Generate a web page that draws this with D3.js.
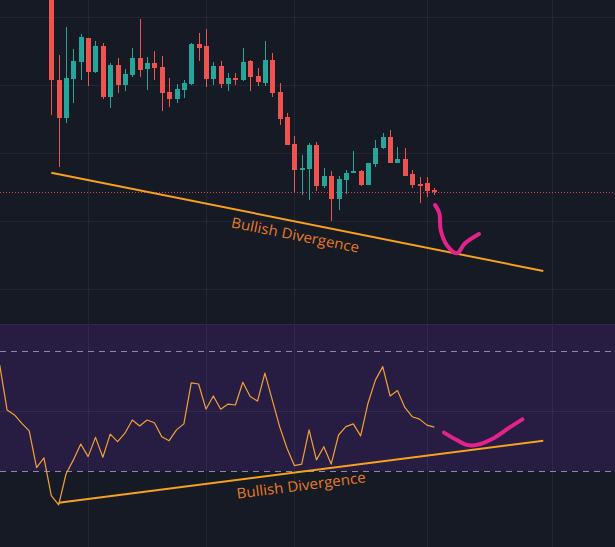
<!DOCTYPE html>
<html><head><meta charset="utf-8">
<script src="https://cdn.jsdelivr.net/npm/d3@7"></script>
<style>html,body{margin:0;padding:0;background:#161a25;overflow:hidden}</style>
</head><body><svg id="c" width="615" height="547"></svg>
<script>
// ---- DATA ----
const candleOpen  = [410,320,282,321,338,362,328,354,303,335, 315,325,342,331,337,333,308,301,310,316, 356,354,321,334,316,322,320,339,324,317, 340,308,283,256,230,231,255,214,224,201, 220,227,229,215,236,252,263,237,241,226, 216,217,210];
const candleHigh  = [420,345,373,351,366,362,359,357,337,342, 331,352,381,343,349,344,322,316,320,357, 367,371,338,339,327,327,352,340,332,359, 347,317,287,264,245,257,258,232,229,224, 230,249,230,237,260,267,270,253,252,230, 223,223,212];
const candleLow   = [285,233,277,297,320,314,327,301,292,307, 309,323,323,310,320,289,293,297,302,315, 339,313,315,312,309,315,319,309,314,314, 303,275,255,208,205,200,209,212,179,190, 206,227,214,215,233,251,237,237,224,212, 197,203,205];
const candleClose = [320,282,322,339,363,328,354,303,335,315, 326,342,330,337,332,307,301,311,317,356, 352,321,334,316,322,320,338,323,318,340, 307,281,255,230,232,255,214,224,201,221, 227,229,215,237,252,263,237,241,224,215, 214,209,208];
const rsiStartIndex = -7;
const rsiValues = [65.3,50.3,48.7,45.9,43.4,31.1,34.4, 21.8,18.7,29.0,33.7,39.0,34.8,41.2,34.6,42.3,39.8, 42.6,47.0,45.0,47.0,46.1,41.4,40.1,43.7,45.7,59.4, 59.0,50.6,55.0,50.6,52.3,52.0,59.6,54.8,53.3,62.6, 53.7,44.8,37.6,31.8,32.3,43.7,33.7,38.1,32.3,42.0, 44.8,45.7,41.7,52.6,60.3,64.8,55.0,56.8,51.2,48.1, 47.3,45.3,44.6];
const priceGridTicks = [383,315,247,179,111];
const timeGridTicks = [5,21,33,51,68];
const rsiBandLevels = [70,30];
const rsiMidLevel = 50;
const lastPrice = 208;
const priceDivergence = [[0,227.3],[66.8,129]];
const rsiDivergence = [[1,19.4],[66.8,40.1]];
const priceSketch = [[52.1,195],[52.68,187],[52.87,170],[53.69,155],[55.05,146.7],[56.17,156.7],[58.07,166]];
const rsiSketch = [[53.32,42.8],[55.05,40.3],[56.4,38.7],[57.76,38.7],[60.24,41.2],[62.28,44.6],[63.95,47.2]];
const labelText = "Bullish Divergence";
const priceLabelAnchor = [33,160];
const rsiLabelAnchor = [34,23.5];

// ---- LAYOUT ----
const W = 615, H = 547;
const main = {top:0, bottom:324};
const rsiPane = {top:325, bottom:547};
const x = d3.scaleLinear().domain([0,52]).range([51.3,434.3]);
const y = d3.scaleLinear().domain([400,76]).range([main.top, main.bottom]);
const yr = d3.scaleLinear().domain([30,70]).range([471,351]);

const svg = d3.select("#c");
const defs = svg.append("defs");
defs.append("clipPath").attr("id","clipMain").append("rect").attr("x",0).attr("y",main.top).attr("width",W).attr("height",main.bottom-main.top);
defs.append("clipPath").attr("id","clipRsi").append("rect").attr("x",0).attr("y",rsiPane.top).attr("width",W).attr("height",rsiPane.bottom-rsiPane.top);

svg.append("rect").attr("width",W).attr("height",H).attr("fill","#161a25");
// RSI background fill
svg.append("rect").attr("x",0).attr("y",rsiPane.top).attr("width",W).attr("height",yr(30)-rsiPane.top).attr("fill","#271d42");
// pane separator
svg.append("line").attr("x1",0).attr("x2",W).attr("y1",main.bottom+0.5).attr("y2",main.bottom+0.5).attr("stroke","#2e2b42").attr("stroke-width",1);

const gridColor = "rgba(255,255,255,0.055)";
const g = svg.append("g");
// vertical grid
timeGridTicks.forEach(t=>{
  const xx = Math.round(x(t))+0.5;
  g.append("line").attr("x1",xx).attr("x2",xx).attr("y1",main.top).attr("y2",main.bottom).attr("stroke",gridColor);
  g.append("line").attr("x1",xx).attr("x2",xx).attr("y1",rsiPane.top+1).attr("y2",rsiPane.bottom).attr("stroke",gridColor);
});
priceGridTicks.forEach(p=>{
  const yy = Math.round(y(p))+0.5;
  g.append("line").attr("x1",0).attr("x2",W).attr("y1",yy).attr("y2",yy).attr("stroke",gridColor);
});
{
  const yy = Math.round(yr(rsiMidLevel))+0.5;
  g.append("line").attr("x1",0).attr("x2",W).attr("y1",yy).attr("y2",yy).attr("stroke","rgba(255,255,255,0.06)");
}
rsiBandLevels.forEach(l=>{
  const yy = Math.round(yr(l))+0.5;
  g.append("line").attr("x1",0).attr("x2",W).attr("y1",yy).attr("y2",yy).attr("stroke","#8e88a8").attr("stroke-width",1).attr("stroke-dasharray","6,5");
});

// last price dotted line
{
  const yy = Math.round(y(lastPrice))+0.5;
  svg.append("line").attr("x1",0).attr("x2",W).attr("y1",yy).attr("y2",yy).attr("stroke","#ef5350").attr("stroke-opacity",0.85).attr("stroke-dasharray","1,2");
}

// candles
const candles = d3.range(candleOpen.length).map(i=>({i,o:candleOpen[i],h:candleHigh[i],l:candleLow[i],c:candleClose[i]}));
const cg = svg.append("g").attr("clip-path","url(#clipMain)");
const up = "#26a69a", dn = "#ef5350";
cg.selectAll("line.wick").data(candles).join("line").attr("class","wick")
  .attr("x1",d=>Math.round(x(d.i))+0.5).attr("x2",d=>Math.round(x(d.i))+0.5)
  .attr("y1",d=>y(d.h)).attr("y2",d=>y(d.l))
  .attr("stroke",d=>d.c>=d.o?up:dn).attr("stroke-width",1);
cg.selectAll("rect.body").data(candles).join("rect").attr("class","body")
  .attr("x",d=>Math.round(x(d.i))-2).attr("width",5)
  .attr("y",d=>y(Math.max(d.o,d.c)))
  .attr("height",d=>Math.max(1.5,Math.abs(y(d.o)-y(d.c))))
  .attr("fill",d=>d.c>=d.o?up:dn);

// price divergence
const lineP = d3.line().x(d=>x(d[0])).y(d=>y(d[1]));
const lineR = d3.line().x(d=>x(d[0])).y(d=>yr(d[1]));
const divColor = "#f7a11e";
cg.append("path").attr("d",lineP(priceDivergence)).attr("fill","none").attr("stroke",divColor).attr("stroke-width",2);

// RSI line
const rg = svg.append("g").attr("clip-path","url(#clipRsi)");
const rsiPts = rsiValues.map((v,k)=>[rsiStartIndex+k,v]);
rg.append("path").attr("d",lineR(rsiPts)).attr("fill","none").attr("stroke","#f2a03a").attr("stroke-width",1.2).attr("stroke-linejoin","round");
rg.append("path").attr("d",lineR(rsiDivergence)).attr("fill","none").attr("stroke",divColor).attr("stroke-width",2);

// labels
function addLabel(anchor, seg, sx, sy, parent){
  const a = Math.atan2(sy(seg[1][1])-sy(seg[0][1]), x(seg[1][0])-x(seg[0][0]))*180/Math.PI;
  const px = x(anchor[0]), py = sy(anchor[1]);
  parent.append("text").attr("transform",`translate(${px},${py}) rotate(${a})`)
    .attr("text-anchor","middle").attr("font-family","'Open Sans', 'Noto Sans', sans-serif")
    .attr("font-size",14.5).attr("fill","#e67a28").attr("textLength",130).attr("lengthAdjust","spacingAndGlyphs")
    .text(labelText);
}
addLabel(priceLabelAnchor, priceDivergence, x, y, cg);
addLabel(rsiLabelAnchor, rsiDivergence, x, yr, rg);

// pink sketches
const pink = "#e3238b";
const sketchP = d3.line().x(d=>x(d[0])).y(d=>y(d[1])).curve(d3.curveCatmullRom.alpha(0.5));
const sketchR = d3.line().x(d=>x(d[0])).y(d=>yr(d[1])).curve(d3.curveCatmullRom.alpha(0.5));
svg.append("path").attr("d",sketchP(priceSketch)).attr("fill","none").attr("stroke",pink).attr("stroke-width",4).attr("stroke-linecap","round").attr("stroke-linejoin","round");
svg.append("path").attr("d",sketchR(rsiSketch)).attr("fill","none").attr("stroke",pink).attr("stroke-width",4).attr("stroke-linecap","round").attr("stroke-linejoin","round");
</script>
</body></html>
